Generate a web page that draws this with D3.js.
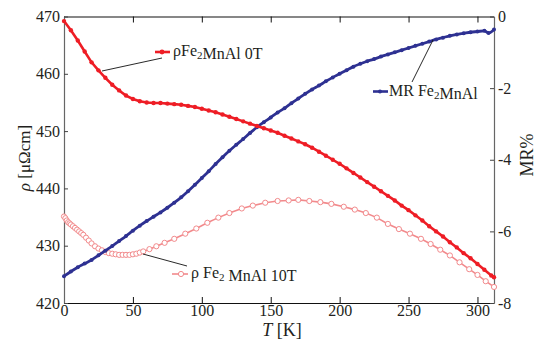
<!DOCTYPE html>
<html>
<head>
<meta charset="utf-8">
<script src="https://d3js.org/d3.v7.min.js"></script>
<style>
  body { margin: 0; background: #fff; }
  svg text { font-family: "Liberation Serif", "Times New Roman", serif; fill: #231f20; }
</style>
</head>
<body>
<div id="chart"></div>
<script>
// rho Fe2MnAl 0T  (left axis, muOhm cm)
var t0 = [0,5,10,15,20,25,30,35,40,45,50,55,60,65,70,75,80,85,90,95,100,105,110,115,120,125,130,135,140,145,150,155,160,165,170,175,180,185,190,195,200,205,210,215,220,225,230,235,240,245,250,255,260,265,270,275,280,285,290,295,300,305,310,312];
var rho0 = [469.2,467.6,465.8,463.9,462.0,460.6,459.3,458.1,457.1,456.2,455.6,455.2,455.0,454.9,454.9,454.8,454.7,454.6,454.4,454.2,453.9,453.6,453.3,452.9,452.5,452.1,451.7,451.3,450.9,450.5,450.1,449.7,449.2,448.7,448.2,447.7,447.1,446.4,445.7,445.0,444.3,443.5,442.7,441.9,441.1,440.3,439.5,438.7,437.9,437.0,436.2,435.3,434.4,433.4,432.5,431.6,430.6,429.7,428.7,427.8,426.8,425.8,424.8,424.5];

// rho Fe2MnAl 10T
var t10 = [0,1,2,3,4,5,6.5,8,9.5,11,12.5,14,16,18,20,22.5,25,27.5,30,32.5,35,37.5,40,42.5,45,47.5,50,52.5,55,57.5,62,67,73,80,88,96,104,112,120,129,137,146,155,163,170,178,186,194,203,211,219,227,235,243,251,259,266,273,280,287,294,300,306,312];
var rho10 = [435.1,434.8,434.4,434.1,433.9,433.7,433.4,433.1,432.8,432.5,432.2,431.9,431.4,430.9,430.4,429.9,429.5,429.2,428.9,428.7,428.6,428.5,428.4,428.4,428.4,428.4,428.5,428.6,428.8,429.0,429.4,429.9,430.5,431.2,432.1,433.0,434.0,434.9,435.7,436.5,437.0,437.5,437.8,437.9,438.0,437.8,437.6,437.3,436.8,436.3,435.7,434.9,433.8,432.9,432.1,431.2,430.3,429.3,428.3,427.1,425.9,424.9,423.8,422.8];

// MR Fe2MnAl (right axis, %)
var tMR = [0,5,10,15,20,25,30,35,40,45,50,55,60,65,70,75,80,85,90,95,100,105,110,115,120,125,130,135,140,145,150,155,160,165,170,175,180,185,190,195,200,205,210,215,220,225,230,235,240,245,250,255,260,265,270,275,280,285,290,295,300,305,308,312];
var mr = [-7.25,-7.12,-7.00,-6.90,-6.80,-6.67,-6.54,-6.41,-6.27,-6.13,-5.98,-5.84,-5.71,-5.59,-5.47,-5.34,-5.20,-5.05,-4.88,-4.70,-4.51,-4.32,-4.12,-3.93,-3.75,-3.58,-3.42,-3.25,-3.09,-2.95,-2.82,-2.68,-2.56,-2.42,-2.29,-2.16,-2.04,-1.93,-1.81,-1.70,-1.60,-1.50,-1.40,-1.32,-1.25,-1.19,-1.12,-1.06,-1.00,-0.94,-0.88,-0.82,-0.76,-0.70,-0.64,-0.59,-0.54,-0.50,-0.47,-0.44,-0.42,-0.40,-0.46,-0.36];

var xTicks = [0,50,100,150,200,250,300];
var yLeftTicks = [420,430,440,450,460,470];
var yRightTicks = [0,-2,-4,-6,-8];

var W = 539, H = 339;
var L = 64, R = 494, T = 16.5, B = 303;

var svg = d3.select("#chart").append("svg").attr("width", W).attr("height", H);

var x = d3.scaleLinear().domain([0, 312]).range([L, R]);
var yL = d3.scaleLinear().domain([420, 470]).range([B, T]);
var yR = d3.scaleLinear().domain([-8, 0]).range([B, T]);

var red = "#ee1d25", pink = "#f28a8c", blue = "#2e3192";

// axes
var gx = svg.append("g").attr("transform", "translate(0," + B + ")")
  .call(d3.axisBottom(x).tickValues(xTicks).tickSizeInner(-6).tickSizeOuter(0).tickPadding(2));
var gxt = svg.append("g").attr("transform", "translate(0," + T + ")")
  .call(d3.axisTop(x).tickValues(xTicks).tickSizeInner(-6).tickSizeOuter(0).tickFormat(""));
var gl = svg.append("g").attr("transform", "translate(" + L + ",0)")
  .call(d3.axisLeft(yL).tickValues(yLeftTicks).tickSizeInner(-4).tickSizeOuter(0).tickPadding(4));
var gr = svg.append("g").attr("transform", "translate(" + R + ",0)")
  .call(d3.axisRight(yR).tickValues(yRightTicks).tickSizeInner(-4).tickSizeOuter(0).tickPadding(4)
    .tickFormat(function(d){ return d < 0 ? "-" + (-d) : d; }));

[gx, gxt].forEach(function(g){ g.select(".domain").attr("stroke", "#111").attr("stroke-width", 1.2); g.selectAll(".tick line").attr("stroke", "#111"); });
[gl, gr].forEach(function(g){ g.select(".domain").attr("stroke", "#666").attr("stroke-width", 1.2); g.selectAll(".tick line").attr("stroke", "#444"); });
svg.selectAll(".tick text").attr("font-family", "Liberation Serif").attr("font-size", 16).attr("fill", "#231f20");

// axis titles
var yt = svg.append("text").attr("transform", "translate(30,158) rotate(-90)").attr("text-anchor", "middle").attr("font-size", 17);
yt.append("tspan").attr("font-style", "italic").text("ρ");
yt.append("tspan").text(" [μΩcm]");

svg.append("text").attr("transform", "translate(533,155) rotate(-90)").attr("text-anchor", "middle").attr("font-size", 18).text("MR%");

var xt = svg.append("text").attr("x", 282).attr("y", 336).attr("text-anchor", "middle").attr("font-size", 18);
xt.append("tspan").attr("font-style", "italic").text("T");
xt.append("tspan").text(" [K]");

// series
var line10 = d3.line().x(function(d, i){ return x(t10[i]); }).y(function(d){ return yL(d); });
svg.append("path").datum(rho10).attr("d", line10).attr("fill", "none").attr("stroke", pink).attr("stroke-width", 1.6);
svg.selectAll(".c10").data(rho10).enter().append("circle")
  .attr("cx", function(d, i){ return x(t10[i]); }).attr("cy", function(d){ return yL(d); })
  .attr("r", 2.6).attr("fill", "#fff").attr("stroke", pink).attr("stroke-width", 1);

var lineMR = d3.line().curve(d3.curveMonotoneX).x(function(d, i){ return x(tMR[i]); }).y(function(d){ return yR(d); });
svg.append("path").datum(mr).attr("d", lineMR).attr("fill", "none").attr("stroke", blue).attr("stroke-width", 2.8);
svg.selectAll(".cmr").data(mr).enter().append("circle")
  .attr("cx", function(d, i){ return x(tMR[i]); }).attr("cy", function(d){ return yR(d); })
  .attr("r", 2).attr("fill", blue);

var line0 = d3.line().x(function(d, i){ return x(t0[i]); }).y(function(d){ return yL(d); });
svg.append("path").datum(rho0).attr("d", line0).attr("fill", "none").attr("stroke", red).attr("stroke-width", 2.6);
svg.selectAll(".c0").data(rho0).enter().append("circle")
  .attr("cx", function(d, i){ return x(t0[i]); }).attr("cy", function(d){ return yL(d); })
  .attr("r", 2.2).attr("fill", red);

// labels with leader lines
function leader(x1, y1, x2, y2) {
  svg.append("line").attr("x1", x1).attr("y1", y1).attr("x2", x2).attr("y2", y2)
    .attr("stroke", "#111").attr("stroke-width", 0.9);
}
function label(xs, y, parts) {
  var t = svg.append("text").attr("x", xs).attr("y", y).attr("font-size", 16);
  parts.forEach(function(p){
    if (p.sub) {
      t.append("tspan").attr("dy", 3).attr("font-size", 11).text(p.s);
      t.append("tspan").attr("dy", -3).text("");
    } else t.append("tspan").text(p.s);
  });
}

// 0T
svg.append("line").attr("x1", 155).attr("x2", 170).attr("y1", 52).attr("y2", 52).attr("stroke", red).attr("stroke-width", 2.6);
svg.append("circle").attr("cx", 162).attr("cy", 52).attr("r", 2.4).attr("fill", red);
leader(162, 58, 102, 71);
label(173, 56, [{s: "ρFe"}, {s: "2", sub: true}, {s: "MnAl 0T"}]);

// MR
svg.append("line").attr("x1", 373).attr("x2", 388).attr("y1", 91.5).attr("y2", 91.5).attr("stroke", blue).attr("stroke-width", 2.6);
svg.append("circle").attr("cx", 380).attr("cy", 91.5).attr("r", 2).attr("fill", blue);
leader(412, 82, 433, 40);
label(389, 96, [{s: "MR Fe"}, {s: "2", sub: true}, {s: "MnAl"}]);

// 10T
svg.append("line").attr("x1", 172).attr("x2", 188).attr("y1", 274).attr("y2", 274).attr("stroke", pink).attr("stroke-width", 1.6);
svg.append("circle").attr("cx", 181).attr("cy", 274).attr("r", 2.6).attr("fill", "#fff").attr("stroke", pink);
leader(187, 266, 143, 254);
label(191, 278, [{s: "ρ Fe"}, {s: "2", sub: true}, {s: " MnAl 10T"}]);
</script>
</body>
</html>
